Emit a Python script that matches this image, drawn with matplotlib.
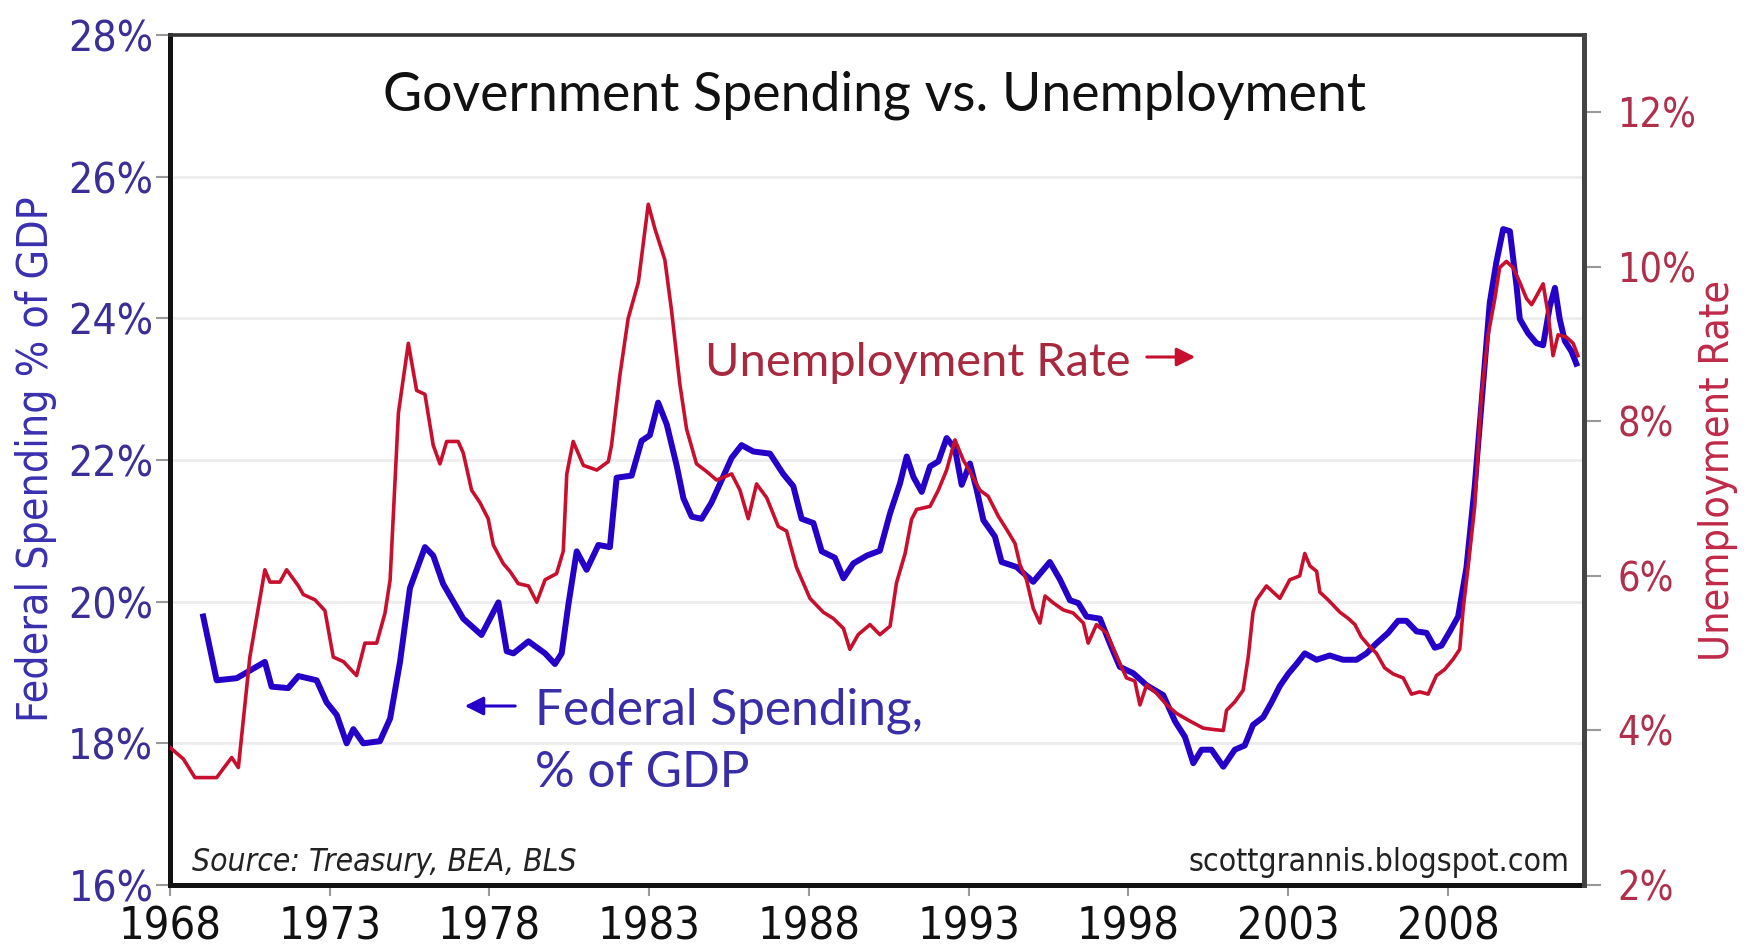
import os
import matplotlib
matplotlib.use("Agg")
import matplotlib.pyplot as plt
from matplotlib import font_manager
from matplotlib.font_manager import FontProperties

# federal spending, % of GDP (left axis)
spend_years = [1969.04, 1969.46, 1970.09, 1970.97, 1971.18, 1971.70, 1972.02, 1972.59, 1972.90, 1973.22,
               1973.53, 1973.74, 1974.05, 1974.57, 1974.89, 1975.20, 1975.51, 1975.98, 1976.24, 1976.55,
               1977.18, 1977.75, 1978.28, 1978.54, 1978.75, 1979.22, 1979.74, 1980.05, 1980.26, 1980.47,
               1980.73, 1981.04, 1981.41, 1981.77, 1981.98, 1982.45, 1982.76, 1983.02, 1983.28, 1983.55,
               1983.86, 1984.07, 1984.33, 1984.64, 1984.95, 1985.21, 1985.58, 1985.89, 1986.26, 1986.78,
               1987.20, 1987.51, 1987.77, 1988.14, 1988.40, 1988.81, 1989.08, 1989.39, 1989.81, 1990.22,
               1990.54, 1990.85, 1991.06, 1991.27, 1991.53, 1991.79, 1992.05, 1992.31, 1992.57, 1992.78,
               1993.04, 1993.25, 1993.46, 1993.82, 1994.03, 1994.50, 1995.02, 1995.28, 1995.54, 1995.86,
               1996.17, 1996.43, 1996.69, 1997.11, 1997.42, 1997.73, 1998.15, 1998.57, 1999.09, 1999.46,
               1999.77, 2000.03, 2000.29, 2000.60, 2000.97, 2001.33, 2001.64, 2001.90, 2002.22, 2002.48,
               2002.74, 2003.00, 2003.26, 2003.52, 2003.89, 2004.30, 2004.72, 2005.14, 2005.45, 2005.76,
               2006.13, 2006.44, 2006.70, 2007.02, 2007.33, 2007.59, 2007.80, 2008.06, 2008.32, 2008.58,
               2008.84, 2009.10, 2009.31, 2009.52, 2009.73, 2009.94, 2010.15, 2010.25, 2010.51, 2010.77,
               2010.98, 2011.19, 2011.35, 2011.50, 2011.66, 2011.87, 2012.02]
spend_pct = [19.79, 18.89, 18.92, 19.15, 18.80, 18.78, 18.95, 18.89, 18.58, 18.40,
             18.00, 18.20, 18.00, 18.03, 18.35, 19.15, 20.19, 20.77, 20.65, 20.25,
             19.76, 19.53, 19.99, 19.30, 19.27, 19.44, 19.27, 19.12, 19.27, 19.96,
             20.71, 20.45, 20.80, 20.77, 21.75, 21.78, 22.27, 22.35, 22.81, 22.50,
             21.92, 21.46, 21.20, 21.17, 21.40, 21.66, 22.03, 22.21, 22.12, 22.09,
             21.80, 21.63, 21.17, 21.11, 20.71, 20.62, 20.33, 20.54, 20.65, 20.72,
             21.25, 21.67, 22.05, 21.76, 21.55, 21.91, 21.98, 22.31, 22.16, 21.65,
             21.95, 21.58, 21.15, 20.92, 20.56, 20.49, 20.28, 20.42, 20.56, 20.31,
             20.02, 19.98, 19.79, 19.76, 19.41, 19.08, 18.99, 18.82, 18.68, 18.31,
             18.09, 17.72, 17.91, 17.91, 17.67, 17.91, 17.97, 18.26, 18.37, 18.58,
             18.81, 18.98, 19.12, 19.27, 19.18, 19.24, 19.18, 19.18, 19.27, 19.41,
             19.56, 19.73, 19.73, 19.58, 19.56, 19.35, 19.38, 19.58, 19.79, 20.48,
             21.63, 23.07, 24.22, 24.80, 25.26, 25.23, 24.45, 23.99, 23.79, 23.65,
             23.62, 24.17, 24.43, 23.99, 23.68, 23.53, 23.36]

# unemployment rate, % (right axis)
unemp_years = [1968.00, 1968.42, 1968.78, 1969.46, 1969.93, 1970.14, 1970.50, 1970.97, 1971.13, 1971.44,
               1971.65, 1972.02, 1972.17, 1972.54, 1972.85, 1973.11, 1973.43, 1973.84, 1974.10, 1974.47,
               1974.73, 1974.89, 1975.15, 1975.46, 1975.72, 1975.98, 1976.24, 1976.45, 1976.66, 1977.02,
               1977.18, 1977.44, 1977.70, 1977.96, 1978.12, 1978.43, 1978.64, 1978.90, 1979.22, 1979.48,
               1979.74, 1980.10, 1980.31, 1980.42, 1980.62, 1980.94, 1981.36, 1981.72, 1981.82, 1982.08,
               1982.34, 1982.66, 1982.97, 1983.18, 1983.49, 1983.70, 1983.96, 1984.17, 1984.48, 1984.80,
               1985.11, 1985.58, 1985.84, 1986.10, 1986.36, 1986.68, 1987.04, 1987.30, 1987.61, 1988.03,
               1988.45, 1988.76, 1989.08, 1989.28, 1989.54, 1989.91, 1990.22, 1990.54, 1990.74, 1991.01,
               1991.21, 1991.37, 1991.79, 1992.05, 1992.31, 1992.57, 1992.83, 1993.04, 1993.35, 1993.61,
               1993.93, 1994.19, 1994.45, 1994.61, 1994.81, 1995.02, 1995.23, 1995.39, 1995.65, 1995.96,
               1996.27, 1996.59, 1996.74, 1997.00, 1997.32, 1997.63, 1997.94, 1998.20, 1998.36, 1998.57,
               1998.88, 1999.20, 1999.51, 1999.93, 2000.34, 2000.71, 2000.97, 2001.07, 2001.33, 2001.59,
               2001.75, 2001.90, 2002.01, 2002.32, 2002.74, 2003.05, 2003.36, 2003.52, 2003.68, 2003.89,
               2003.99, 2004.25, 2004.62, 2004.88, 2005.09, 2005.29, 2005.56, 2005.76, 2006.02, 2006.29,
               2006.60, 2006.86, 2007.12, 2007.38, 2007.64, 2007.90, 2008.16, 2008.37, 2008.48, 2008.63,
               2008.84, 2009.05, 2009.26, 2009.47, 2009.62, 2009.83, 2010.04, 2010.25, 2010.46, 2010.62,
               2010.77, 2010.98, 2011.14, 2011.29, 2011.45, 2011.71, 2011.92, 2012.07]
unemp_pct = [3.78, 3.63, 3.39, 3.39, 3.65, 3.52, 4.95, 6.08, 5.92, 5.92,
             6.08, 5.87, 5.76, 5.69, 5.55, 4.95, 4.89, 4.71, 5.13, 5.13,
             5.52, 5.95, 8.11, 9.01, 8.40, 8.35, 7.69, 7.45, 7.74, 7.74,
             7.59, 7.11, 6.95, 6.74, 6.40, 6.16, 6.06, 5.90, 5.87, 5.66,
             5.95, 6.03, 6.32, 7.32, 7.74, 7.43, 7.37, 7.48, 7.69, 8.59,
             9.33, 9.80, 10.81, 10.49, 10.09, 9.43, 8.48, 7.90, 7.45, 7.35,
             7.24, 7.32, 7.11, 6.74, 7.19, 7.01, 6.64, 6.58, 6.11, 5.71,
             5.53, 5.45, 5.32, 5.05, 5.24, 5.37, 5.24, 5.35, 5.91, 6.29,
             6.73, 6.86, 6.90, 7.11, 7.37, 7.76, 7.50, 7.35, 7.11, 7.03,
             6.77, 6.60, 6.42, 6.14, 5.95, 5.58, 5.39, 5.74, 5.65, 5.56,
             5.52, 5.39, 5.13, 5.37, 5.26, 4.96, 4.68, 4.64, 4.33, 4.59,
             4.48, 4.33, 4.22, 4.12, 4.03, 4.01, 4.00, 4.26, 4.37, 4.52,
             4.95, 5.53, 5.69, 5.87, 5.71, 5.95, 6.00, 6.29, 6.13, 6.06,
             5.79, 5.69, 5.53, 5.45, 5.37, 5.21, 5.08, 5.00, 4.81, 4.73,
             4.68, 4.47, 4.50, 4.47, 4.71, 4.79, 4.92, 5.05, 5.58, 6.11,
             6.90, 8.33, 9.12, 9.59, 9.99, 10.07, 9.99, 9.80, 9.59, 9.51,
             9.62, 9.78, 9.38, 8.85, 9.12, 9.09, 9.01, 8.85]

year_ticks = [1968, 1973, 1978, 1983, 1988, 1993, 1998, 2003, 2008]
left_ticks = [16, 18, 20, 22, 24, 26, 28]
right_ticks = [2, 4, 6, 8, 10, 12]

# look for a narrow font file; fall back to plain DejaVu Sans
font_files = [f.fname for f in font_manager.fontManager.ttflist]


def find_font(prefixes):
    for p in prefixes:
        for fn in font_files:
            base = os.path.basename(fn).lower()
            if base.startswith(p):
                return fn
    return None


narrow_file = find_font(['liberationsansnarrow-regular', 'notosans-condensed.', 'dejavusanscondensed.',
                         'robotocondensed-regular', 'opensans_condensed-regular', 'opensans-condensed'])
narrow_it_file = find_font(['liberationsansnarrow-italic', 'notosans-condenseditalic.',
                            'dejavusanscondensed-oblique', 'robotocondensed-italic'])
round_font = 'Lato' if any('lato' in os.path.basename(f).lower() for f in font_files) else 'DejaVu Sans'


def narrow(size, italic=False):
    fn = narrow_it_file if italic else narrow_file
    if fn:
        return FontProperties(fname=fn, size=size)
    return FontProperties(family='DejaVu Sans', size=size, style='italic' if italic else 'normal')


W, H = 1755, 948
fig = plt.figure(figsize=(W / 100, H / 100), dpi=100, facecolor='white')
ax = fig.add_axes([170 / W, 1 - 885 / H, (1584 - 170) / W, (885 - 35) / H])
renderer = fig.canvas.get_renderer()


def size_for(s, width_px, italic=False):
    t = fig.text(0, 0, s, fontproperties=narrow(20, italic))
    w = t.get_window_extent(renderer).width
    t.remove()
    return 20 * width_px / w


def fit(t, width_px, vertical=False):
    bb = t.get_window_extent(renderer)
    cur = bb.height if vertical else bb.width
    t.set_fontsize(t.get_fontsize() * width_px / cur)


blue = '#2400c8'
red = '#c8102e'

ax.plot(spend_years, spend_pct, color=blue, lw=4.3, zorder=3)
ax.set_xlim(1968, 2012.26)
ax.set_ylim(16, 28)
ax.set_yticks(left_ticks)
ax.set_yticklabels([f'{v}%' for v in left_ticks])
ax.set_xticks(year_ticks)
ax.set_xticklabels([str(y) for y in year_ticks])
ax.yaxis.grid(True, color='#ececec', lw=2)
ax.set_axisbelow(True)

ax2 = ax.twinx()
ax2.plot(unemp_years, unemp_pct, color=red, lw=2.6, zorder=3)
ax2.set_ylim(2, 13)
ax2.set_yticks(right_ticks)
ax2.set_yticklabels([f'{v}%' for v in right_ticks])

left_fp = narrow(size_for('26%', 85))
right_fp = narrow(size_for('12%', 79))
year_fp = narrow(size_for('1968', 103))

ax.tick_params(axis='y', direction='out', length=10, width=1.5, color='#999999',
               labelcolor='#3b2e96', pad=2)
ax.tick_params(axis='x', direction='out', length=8, width=1.5, color='#999999',
               labelcolor='#111111', pad=7)
ax2.tick_params(axis='y', direction='out', length=12, width=1.5, color='#999999',
                labelcolor='#b0304c', pad=12)
for lbl in ax.get_yticklabels():
    lbl.set_fontproperties(left_fp)
for lbl in ax.get_xticklabels():
    lbl.set_fontproperties(year_fp)
for lbl in ax2.get_yticklabels():
    lbl.set_fontproperties(right_fp)

for s in ['left', 'bottom']:
    ax.spines[s].set_color('#111111')
    ax.spines[s].set_linewidth(3.6)
ax.spines['top'].set_color('#333333')
ax.spines['top'].set_linewidth(2.6)
ax.spines['right'].set_visible(False)
for s in ['left', 'bottom', 'top']:
    ax2.spines[s].set_visible(False)
ax2.spines['right'].set_color('#444444')
ax2.spines['right'].set_linewidth(3.6)


def px(x, y):
    return x / W, 1 - y / H


title = fig.text(*px(383, 110), 'Government Spending vs. Unemployment', family=round_font,
                 fontsize=40, color='#111111', ha='left', va='baseline')
fit(title, 982)

ur = fig.text(*px(705, 376), 'Unemployment Rate', family=round_font, fontsize=30,
              color='#a8283e', ha='left', va='baseline')
fit(ur, 425)
ax.annotate('', xy=(1198, H - 357), xytext=(1144, H - 357), xycoords='figure pixels',
            textcoords='figure pixels',
            arrowprops=dict(arrowstyle='-|>', color=red, lw=2.2, mutation_scale=28))

fs = fig.text(*px(535, 725), 'Federal Spending,', family=round_font, fontsize=30,
              color='#3a2ea8', ha='left', va='baseline')
fit(fs, 388)
fig.text(*px(535, 787), '% of GDP', family=round_font, fontsize=fs.get_fontsize(),
         color='#3a2ea8', ha='left', va='baseline')
ax.annotate('', xy=(462, H - 706), xytext=(518, H - 706), xycoords='figure pixels',
            textcoords='figure pixels',
            arrowprops=dict(arrowstyle='-|>', color=blue, lw=2.2, mutation_scale=28))

src = fig.text(*px(192, 871), 'Source: Treasury, BEA, BLS', fontproperties=narrow(20, True),
               color='#222222', ha='left', va='baseline')
fit(src, 384)
wm = fig.text(*px(1569, 871), 'scottgrannis.blogspot.com', fontproperties=narrow(20),
              color='#222222', ha='right', va='baseline')
fit(wm, 381)

yl = fig.text(*px(36, 459), 'Federal Spending % of GDP', fontproperties=narrow(30), rotation=90,
              color='#3a30b0', ha='center', va='center')
fit(yl, 526, vertical=True)
yr = fig.text(*px(1718, 470), 'Unemployment Rate', fontproperties=narrow(30), rotation=90,
              color='#c02a48', ha='center', va='center')
fit(yr, 380, vertical=True)

fig.savefig('out.png', dpi=100, facecolor='white')
